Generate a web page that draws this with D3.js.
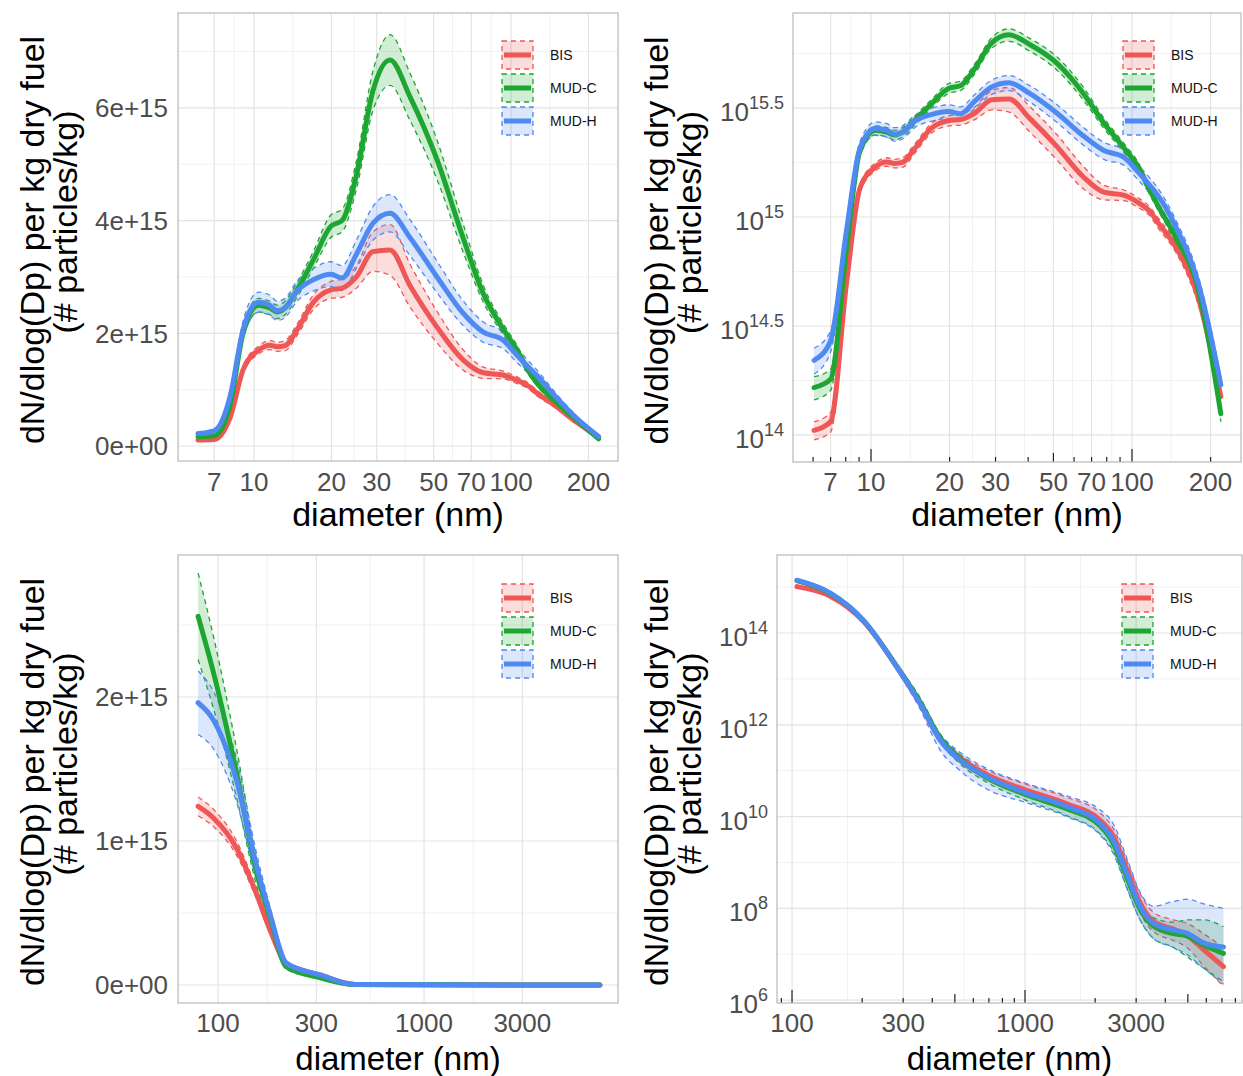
<!DOCTYPE html>
<html><head><meta charset="utf-8">
<script src="https://cdn.jsdelivr.net/npm/d3@7"></script>
<style>
body{margin:0;background:#fff}
svg{display:block}
text{font-family:"Liberation Sans",Arial,Helvetica,sans-serif}
</style>
</head><body>
<svg id="c" width="1243" height="1076"></svg>
<script>
// ---------------- DATA ----------------
const seriesNames = ["BIS", "MUD-C", "MUD-H"];
const seriesColors = ["#EF5656", "#1EA632", "#4F89F2"];

// Top panels (fine particles), values in units of 1e15 particles/kg
const dpFine = [6.05, 7.0, 8.06, 9.06, 10.4, 11.5, 12.3, 13.2, 14.7, 17.0, 19.9, 22.0, 25.0, 29.0, 33.8, 40.4, 51.5, 65.0, 78.0, 93.0, 105, 118, 126, 146, 180, 219];
const bisFineE15 = [0.105, 0.115, 0.5, 1.35, 1.70, 1.79, 1.76, 1.78, 2.06, 2.55, 2.77, 2.8, 3.0, 3.45, 3.48, 2.85, 2.11, 1.53, 1.30, 1.26, 1.17, 1.05, 0.94, 0.74, 0.42, 0.15];
const bisFineErrE15 = [0.01, 0.012, 0.04, 0.06, 0.07, 0.08, 0.08, 0.09, 0.1, 0.13, 0.15, 0.16, 0.2, 0.35, 0.45, 0.38, 0.28, 0.18, 0.1, 0.07, 0.06, 0.05, 0.05, 0.04, 0.03, 0.01];
const mudcFineE15 = [0.165, 0.18, 0.72, 2.0, 2.5, 2.45, 2.38, 2.45, 2.77, 3.3, 3.9, 4.0, 4.8, 6.3, 6.85, 6.2, 5.08, 3.7, 2.7, 2.08, 1.72, 1.3, 1.12, 0.82, 0.46, 0.125];
const mudcFineErrE15 = [0.02, 0.02, 0.04, 0.1, 0.12, 0.12, 0.12, 0.12, 0.13, 0.15, 0.2, 0.2, 0.25, 0.35, 0.45, 0.42, 0.35, 0.25, 0.15, 0.1, 0.08, 0.06, 0.05, 0.04, 0.025, 0.01];
const mudhFineE15 = [0.22, 0.27, 0.87, 2.06, 2.55, 2.5, 2.4, 2.45, 2.75, 2.95, 3.05, 2.98, 3.4, 3.95, 4.13, 3.7, 3.0, 2.36, 2.02, 1.88, 1.62, 1.38, 1.25, 0.92, 0.49, 0.17];
const mudhFineErrE15 = [0.03, 0.03, 0.06, 0.15, 0.18, 0.18, 0.17, 0.17, 0.18, 0.2, 0.22, 0.22, 0.25, 0.3, 0.33, 0.32, 0.28, 0.22, 0.18, 0.15, 0.13, 0.11, 0.1, 0.07, 0.04, 0.015];

// Bottom-left panel (coarse, linear y), units of 1e15
const dpCoarseLin = [80, 95, 123, 154, 179, 215, 313, 462, 1000, 3000, 7140];
const bisCoarseLinE15 = [1.24, 1.16, 0.95, 0.63, 0.38, 0.15, 0.07, 0.003, 0.001, 0.0005, 0.0003];
const bisCoarseLinErrE15 = [0.065, 0.06, 0.05, 0.035, 0.02, 0.008, 0.004, 0, 0, 0, 0];
const mudcCoarseLinE15 = [2.56, 2.17, 1.47, 0.78, 0.47, 0.125, 0.05, 0.003, 0.001, 0.0005, 0.0003];
const mudcCoarseLinErrE15 = [0.30, 0.25, 0.17, 0.09, 0.05, 0.015, 0.006, 0, 0, 0, 0];
const mudhCoarseLinE15 = [1.96, 1.84, 1.42, 0.82, 0.49, 0.15, 0.07, 0.003, 0.001, 0.0005, 0.0003];
const mudhCoarseLinErrE15 = [0.22, 0.2, 0.15, 0.09, 0.05, 0.015, 0.006, 0, 0, 0, 0];

// Bottom-right panel (coarse, log y), values as log10(particles/kg)
const dpCoarseLog = [105, 146, 202, 281, 354, 432, 526, 684, 1017, 1510, 2100, 2390, 2734, 3120, 3550, 4330, 4950, 5840, 7110];
const bisCoarseLog10 = [15.01, 14.80, 14.26, 13.27, 12.47, 11.68, 11.27, 10.92, 10.57, 10.28, 9.92, 9.58, 8.86, 8.12, 7.72, 7.55, 7.42, 7.10, 6.73];
const bisCoarseLo10 = [14.98, 14.77, 14.23, 13.24, 12.42, 11.62, 11.18, 10.82, 10.45, 10.15, 9.76, 9.4, 8.65, 7.9, 7.5, 7.3, 7.15, 6.75, 6.3];
const bisCoarseHi10 = [15.04, 14.83, 14.29, 13.3, 12.52, 11.74, 11.35, 11.02, 10.7, 10.42, 10.08, 9.75, 9.05, 8.32, 7.92, 7.75, 7.68, 7.45, 7.15];
const mudcCoarseLog10 = [15.14, 14.86, 14.28, 13.28, 12.50, 11.72, 11.25, 10.85, 10.47, 10.17, 9.80, 9.42, 8.68, 7.98, 7.62, 7.45, 7.40, 7.20, 7.02];
const mudcCoarseLo10 = [15.11, 14.83, 14.25, 13.24, 12.4, 11.62, 11.15, 10.75, 10.35, 10.02, 9.62, 9.25, 8.45, 7.75, 7.35, 7.15, 6.95, 6.7, 6.4];
const mudcCoarseHi10 = [15.17, 14.89, 14.31, 13.32, 12.6, 11.8, 11.35, 10.95, 10.6, 10.3, 9.93, 9.55, 8.85, 8.15, 7.8, 7.7, 7.75, 7.75, 7.6];
const mudhCoarseLog10 = [15.15, 14.87, 14.28, 13.27, 12.47, 11.67, 11.23, 10.87, 10.51, 10.22, 9.85, 9.49, 8.76, 8.04, 7.68, 7.53, 7.46, 7.25, 7.16];
const mudhCoarseLo10 = [15.11, 14.83, 14.24, 13.2, 12.35, 11.45, 11.0, 10.6, 10.3, 10.0, 9.6, 9.2, 8.45, 7.75, 7.35, 7.15, 7.0, 6.7, 6.35];
const mudhCoarseHi10 = [15.18, 14.9, 14.31, 13.32, 12.55, 11.8, 11.4, 11.05, 10.72, 10.45, 10.15, 9.85, 9.1, 8.35, 8.05, 8.15, 8.2, 8.1, 8.0];

// Tick labels
const xBreaksFine = [7, 10, 20, 30, 50, 70, 100, 200];
const xBreaksCoarse = [100, 300, 1000, 3000];
const yBreaksLinTop = [0, 2e15, 4e15, 6e15];
const yLabelsLinTop = ["0e+00", "2e+15", "4e+15", "6e+15"];
const yBreaksLogTop = ["14", "14.5", "15", "15.5"];
const yBreaksLinBottom = [0, 1e15, 2e15];
const yLabelsLinBottom = ["0e+00", "1e+15", "2e+15"];
const yBreaksLogBottom = ["6", "8", "10", "12", "14"];

const yTitle1 = "dN/dlog(Dp) per kg dry fuel";
const yTitle2 = "(# particles/kg)";
const xTitle = "diameter (nm)";

// ---------------- BUILD ----------------
const E15 = 1e15;
function buildLin(dp, vals, errs) {
  return seriesNames.map((name, i) => ({
    name, color: seriesColors[i],
    pts: dp.map((d, j) => ({d, v: vals[i][j] * E15, lo: (vals[i][j] - errs[i][j]) * E15, hi: (vals[i][j] + errs[i][j]) * E15}))
  }));
}
const fineSeries = buildLin(dpFine, [bisFineE15, mudcFineE15, mudhFineE15], [bisFineErrE15, mudcFineErrE15, mudhFineErrE15]);
const coarseLinSeries = buildLin(dpCoarseLin, [bisCoarseLinE15, mudcCoarseLinE15, mudhCoarseLinE15], [bisCoarseLinErrE15, mudcCoarseLinErrE15, mudhCoarseLinErrE15]);
const logVals = [bisCoarseLog10, mudcCoarseLog10, mudhCoarseLog10];
const logLo = [bisCoarseLo10, mudcCoarseLo10, mudhCoarseLo10];
const logHi = [bisCoarseHi10, mudcCoarseHi10, mudhCoarseHi10];
const coarseLogSeries = seriesNames.map((name, i) => ({
  name, color: seriesColors[i],
  pts: dpCoarseLog.map((d, j) => ({d, v: Math.pow(10, logVals[i][j]), lo: Math.pow(10, logLo[i][j]), hi: Math.pow(10, logHi[i][j])}))
}));

const svg = d3.select("#c");
const defs = svg.append("defs");
const TICK_COLOR = "#4d4d4d";

function logMinor(breaks) {
  const m = [];
  for (let i = 0; i < breaks.length - 1; i++) m.push(Math.sqrt(breaks[i] * breaks[i + 1]));
  return m;
}

function drawPanel(cfg) {
  const {id, x, y, series, logY} = cfg;
  const [x0, x1] = x.range();
  const [yb, yt] = y.range();
  const g = svg.append("g");
  defs.append("clipPath").attr("id", "clip" + id).append("rect")
    .attr("x", x0).attr("y", yt).attr("width", x1 - x0).attr("height", yb - yt);

  // grid
  const grid = g.append("g");
  cfg.yMinor.forEach(v => grid.append("line").attr("x1", x0).attr("x2", x1).attr("y1", y(v)).attr("y2", y(v)).attr("stroke", "#f1f1f1").attr("stroke-width", 1));
  logMinor(cfg.xBreaks).forEach(v => grid.append("line").attr("x1", x(v)).attr("x2", x(v)).attr("y1", yt).attr("y2", yb).attr("stroke", "#f1f1f1").attr("stroke-width", 1));
  cfg.yMajor.forEach(v => grid.append("line").attr("x1", x0).attr("x2", x1).attr("y1", y(v)).attr("y2", y(v)).attr("stroke", "#e3e3e3").attr("stroke-width", 1.2));
  cfg.xBreaks.forEach(v => grid.append("line").attr("x1", x(v)).attr("x2", x(v)).attr("y1", yt).attr("y2", yb).attr("stroke", "#e3e3e3").attr("stroke-width", 1.2));

  const plot = g.append("g").attr("clip-path", "url(#clip" + id + ")");
  const clampLo = p => logY ? Math.max(p.lo, y.domain()[0] * 0.5) : p.lo;
  const area = d3.area().x(p => x(p.d)).y0(p => y(clampLo(p))).y1(p => y(p.hi)).curve(d3.curveMonotoneX);
  const lineV = d3.line().x(p => x(p.d)).y(p => y(p.v)).curve(d3.curveMonotoneX);
  const lineLo = d3.line().x(p => x(p.d)).y(p => y(clampLo(p))).curve(d3.curveMonotoneX);
  const lineHi = d3.line().x(p => x(p.d)).y(p => y(p.hi)).curve(d3.curveMonotoneX);
  series.forEach(s => {
    plot.append("path").attr("d", area(s.pts)).attr("fill", s.color).attr("fill-opacity", 0.2).attr("stroke", "none");
    plot.append("path").attr("d", lineLo(s.pts)).attr("fill", "none").attr("stroke", s.color).attr("stroke-width", 1.3).attr("stroke-dasharray", "5,4");
    plot.append("path").attr("d", lineHi(s.pts)).attr("fill", "none").attr("stroke", s.color).attr("stroke-width", 1.3).attr("stroke-dasharray", "5,4");
  });
  series.forEach(s => {
    plot.append("path").attr("d", lineV(s.pts)).attr("fill", "none").attr("stroke", s.color).attr("stroke-width", 5).attr("stroke-linejoin", "round").attr("stroke-linecap", "round");
  });

  // log ticks at bottom
  if (cfg.logTicks) {
    const lt = g.append("g");
    const [d0, d1] = x.domain();
    for (let p = Math.floor(Math.log10(d0)); p <= Math.ceil(Math.log10(d1)); p++) {
      for (let m = 1; m <= 9; m++) {
        const v = m * Math.pow(10, p);
        if (v < d0 || v > d1) continue;
        const len = m === 1 ? 13 : (m === 5 ? 9 : 5);
        lt.append("line").attr("x1", x(v)).attr("x2", x(v)).attr("y1", yb).attr("y2", yb - len).attr("stroke", "#222").attr("stroke-width", 1.2);
      }
    }
  }

  // border
  g.append("rect").attr("x", x0).attr("y", yt).attr("width", x1 - x0).attr("height", yb - yt)
    .attr("fill", "none").attr("stroke", "#b8b8b8").attr("stroke-width", 1.2);

  // x tick labels
  cfg.xBreaks.forEach(v => g.append("text").attr("x", x(v)).attr("y", cfg.xLabelY).attr("text-anchor", "middle")
    .attr("fill", TICK_COLOR).style("font-size", "26px").text(v));
  // y tick labels
  if (logY) {
    cfg.yLabels.forEach(e => {
      const t = g.append("text").attr("x", x0 - 9).attr("y", y(Math.pow(10, +e)) + 13).attr("text-anchor", "end")
        .attr("fill", TICK_COLOR).style("font-size", "26px");
      t.append("tspan").text("10");
      t.append("tspan").attr("dy", -12).style("font-size", "18px").text(e);
    });
  } else {
    cfg.yMajor.forEach((v, i) => g.append("text").attr("x", x0 - 10).attr("y", y(v)).attr("dy", "0.36em").attr("text-anchor", "end")
      .attr("fill", TICK_COLOR).style("font-size", "26px").text(cfg.yLabels[i]));
  }
  // titles
  g.append("text").attr("x", (x0 + x1) / 2).attr("y", cfg.xTitleY).attr("text-anchor", "middle")
    .attr("fill", "#000").style("font-size", cfg.xTitleSize + "px").text(xTitle);
  const cy = (yt + yb) / 2;
  g.append("text").attr("transform", `translate(${cfg.yTitleX1},${cy + 3}) rotate(-90)`).attr("text-anchor", "middle").attr("dy", "0.36em")
    .attr("fill", "#000").style("font-size", "34px").text(yTitle1);
  g.append("text").attr("transform", `translate(${cfg.yTitleX2},${cy - 15}) rotate(-90)`).attr("text-anchor", "middle").attr("dy", "0.36em")
    .attr("fill", "#000").style("font-size", "34px").text(yTitle2);

  // legend
  const lg = g.append("g");
  series.forEach((s, i) => {
    const cyk = cfg.legendY + i * 33;
    lg.append("rect").attr("x", cfg.legendX).attr("y", cyk - 14).attr("width", 31).attr("height", 28)
      .attr("fill", s.color).attr("fill-opacity", 0.2).attr("stroke", s.color).attr("stroke-width", 1.3).attr("stroke-dasharray", "5,4");
    lg.append("line").attr("x1", cfg.legendX + 2).attr("x2", cfg.legendX + 29).attr("y1", cyk).attr("y2", cyk)
      .attr("stroke", s.color).attr("stroke-width", 5);
    lg.append("text").attr("x", cfg.legendX + 48).attr("y", cyk).attr("dy", "0.36em").attr("fill", "#111")
      .style("font-size", "14px").text(s.name);
  });
}

// Panel 1: top-left
drawPanel({
  id: 1, series: fineSeries, logY: false,
  x: d3.scaleLog().domain([5.06, 260.6]).range([178, 618]),
  y: d3.scaleLinear().domain([-0.266e15, 7.684e15]).range([461, 13]),
  xBreaks: xBreaksFine, yMajor: yBreaksLinTop, yLabels: yLabelsLinTop, yMinor: [1e15, 3e15, 5e15, 7e15],
  xLabelY: 491, xTitleY: 526, xTitleSize: 34, yTitleX1: 32, yTitleX2: 65, legendX: 502, legendY: 55
});
// Panel 2: top-right
drawPanel({
  id: 2, series: fineSeries, logY: true, logTicks: true,
  x: d3.scaleLog().domain([5.025, 261.6]).range([793, 1241]),
  y: d3.scaleLog().domain([Math.pow(10, 13.876), Math.pow(10, 15.936)]).range([462, 13]),
  xBreaks: xBreaksFine, yMajor: yBreaksLogTop.map(e => Math.pow(10, +e)), yLabels: yBreaksLogTop,
  yMinor: [14.25, 14.75, 15.25, 15.75].map(e => Math.pow(10, e)),
  xLabelY: 491, xTitleY: 526, xTitleSize: 34, yTitleX1: 656, yTitleX2: 689, legendX: 1123, legendY: 55
});
// Panel 3: bottom-left
drawPanel({
  id: 3, series: coarseLinSeries, logY: false,
  x: d3.scaleLog().domain([63.9, 8745]).range([178, 618]),
  y: d3.scaleLinear().domain([-0.125e15, 2.986e15]).range([1003, 555]),
  xBreaks: xBreaksCoarse, yMajor: yBreaksLinBottom, yLabels: yLabelsLinBottom, yMinor: [0.5e15, 1.5e15, 2.5e15],
  xLabelY: 1032, xTitleY: 1070, xTitleSize: 33, yTitleX1: 32, yTitleX2: 65, legendX: 502, legendY: 598
});
// Panel 4: bottom-right
drawPanel({
  id: 4, series: coarseLogSeries, logY: true, logTicks: true,
  x: d3.scaleLog().domain([86.2, 8539]).range([777, 1242]),
  y: d3.scaleLog().domain([Math.pow(10, 5.939), Math.pow(10, 15.699)]).range([1003, 555]),
  xBreaks: xBreaksCoarse, yMajor: yBreaksLogBottom.map(e => Math.pow(10, +e)), yLabels: yBreaksLogBottom,
  yMinor: [7, 9, 11, 13, 15].map(e => Math.pow(10, e)),
  xLabelY: 1032, xTitleY: 1070, xTitleSize: 33, yTitleX1: 656, yTitleX2: 689, legendX: 1122, legendY: 598
});
</script>
</body></html>
